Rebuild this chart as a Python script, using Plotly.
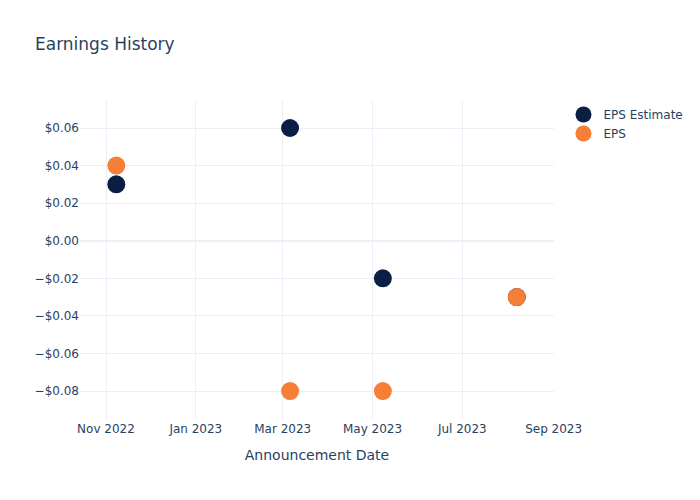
import plotly.graph_objects as go

dates = ["2022-11-08", "2023-03-06", "2023-05-08", "2023-08-07"]
eps_estimate = [0.03, 0.06, -0.02, -0.03]
eps_actual = [0.04, -0.08, -0.08, -0.03]

fig = go.Figure()
fig.add_trace(go.Scatter(x=dates, y=eps_estimate, mode="markers", name="EPS Estimate",
                         marker=dict(color="#0b1f44", size=18)))
fig.add_trace(go.Scatter(x=dates, y=eps_actual, mode="markers", name="EPS",
                         marker=dict(color="#f57f37", size=18)))
fig.update_layout(
    template="plotly_white",
    font=dict(family="DejaVu Sans"),
    title=dict(text="Earnings History"),
    width=700, height=500,
    xaxis=dict(title=dict(text="Announcement Date"), tickformat="%b %Y", dtick="M2",
               range=["2022-10-14 08:00", "2023-09-01 06:00"]),
    yaxis=dict(tickformat="$.2f", range=[-0.0954, 0.0749]),
)
fig.write_html("out.html")
